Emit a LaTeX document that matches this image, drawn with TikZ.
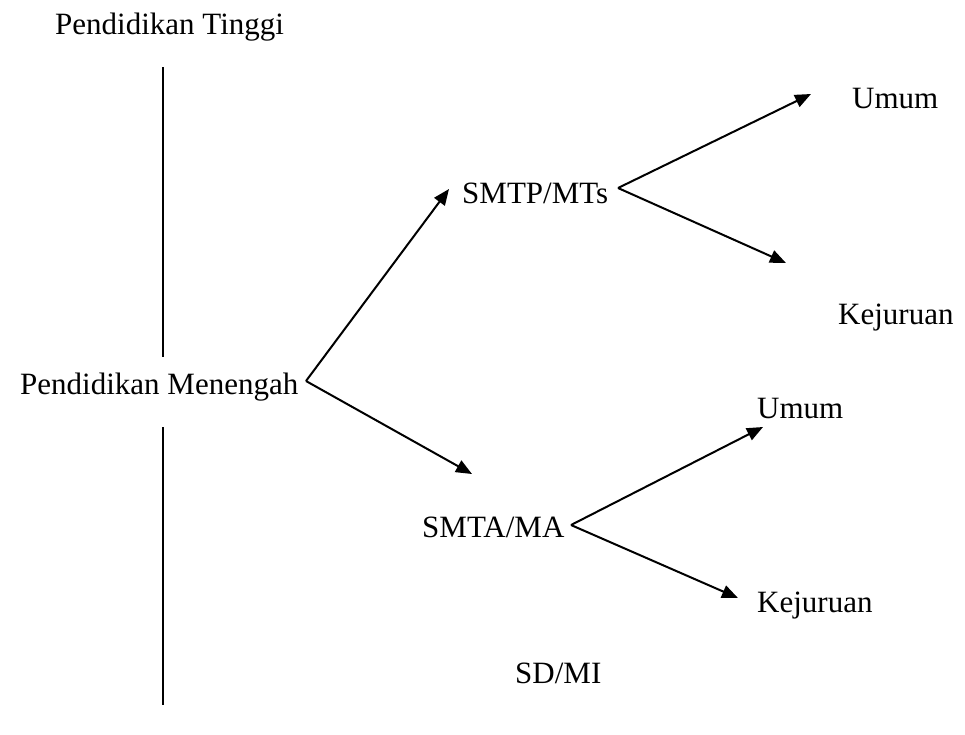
\documentclass[tikz,border=0pt]{standalone}
\usepackage{fontspec}
\setmainfont{Liberation Serif}
\usetikzlibrary{arrows.meta}
\begin{document}
\begin{tikzpicture}[x=1pt,y=-1pt,
  label/.style={anchor=base west,inner sep=0pt,font=\fontsize{31}{37}\selectfont},
  link/.style={line width=2pt,-{Triangle[length=16pt,width=13pt]}},
  bar/.style={line width=2pt}]
\useasboundingbox (0,0) rectangle (965,734);

% text labels
\node[label] (pt)   at (55,34)   {Pendidikan Tinggi};
\node[label] (pm)   at (20,394)  {Pendidikan Menengah};
\node[label] (smtp) at (462,203) {SMTP/MTs};
\node[label] (u1)   at (852,108) {Umum};
\node[label] (k1)   at (838,324) {Kejuruan};
\node[label] (smta) at (422,537) {SMTA/MA};
\node[label] (u2)   at (757,418) {Umum};
\node[label] (k2)   at (757,612) {Kejuruan};
\node[label] (sd)   at (515,683) {SD/MI};

% vertical axis, split around the middle label
\coordinate (a1) at (163,67);
\coordinate (a2) at (163,357);
\coordinate (a3) at (163,427);
\coordinate (a4) at (163,705);
\draw[bar] (a1) -- (a2);
\draw[bar] (a3) -- (a4);

% branching points
\coordinate (pmv)   at (306,381);
\coordinate (smtpv) at (618,188);
\coordinate (smtav) at (571,525);

% arrow ends
\coordinate (t1) at (449,189);
\coordinate (t2) at (472,474);
\coordinate (t3) at (811,94);
\coordinate (t4) at (786,263);
\coordinate (t5) at (763,427);
\coordinate (t6) at (738,598);

\draw[link] (pmv) -- (t1);
\draw[link] (pmv) -- (t2);
\draw[link] (smtpv) -- (t3);
\draw[link] (smtpv) -- (t4);
\draw[link] (smtav) -- (t5);
\draw[link] (smtav) -- (t6);
\end{tikzpicture}
\end{document}
